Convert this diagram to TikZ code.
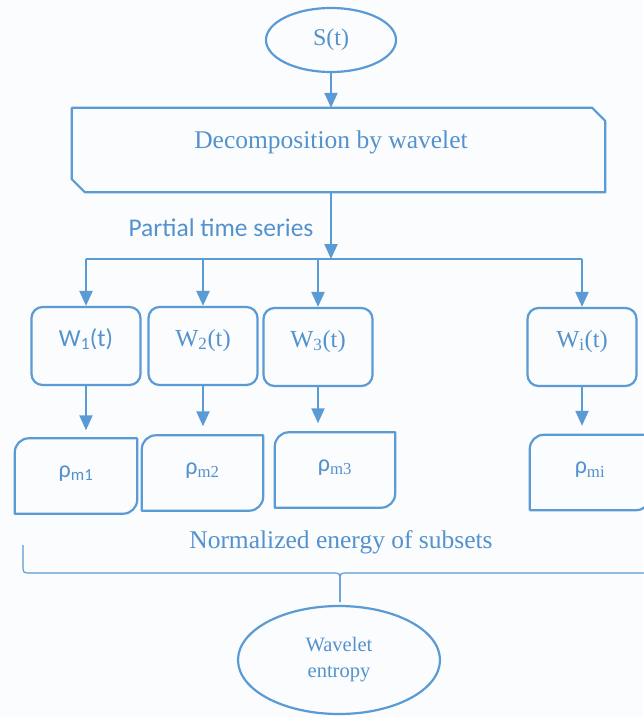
\documentclass[tikz,border=0pt]{standalone}
\usepackage{fontspec}
\setmainfont{Liberation Serif}
\newfontfamily\calibri{Carlito}
\usetikzlibrary{shapes.geometric,arrows.meta,calc}
\definecolor{waveblue}{RGB}{91,155,213}
\definecolor{wavetext}{RGB}{84,146,206}
\definecolor{paper}{RGB}{251,252,253}

\begin{document}
\begin{tikzpicture}[x=1pt,y=-1pt,
  every node/.style={text=wavetext},
  oval/.style={ellipse,draw=waveblue,line width=2.2pt,inner sep=0pt},
  wbox/.style={rectangle,rounded corners=11pt,draw=waveblue,line width=2.2pt,
    minimum width=109pt,minimum height=78pt,inner sep=0pt,
    font=\fontsize{24.5}{28}\selectfont,text height=17pt,text depth=17pt},
  pbox/.style={rectangle,minimum width=121pt,minimum height=75pt,inner sep=0pt,
    font=\fontsize{24}{28}\selectfont,text height=17pt,text depth=15pt},
  link/.style={draw=waveblue,line width=2.2pt,line join=round},
  arrow/.style={link,-{Triangle[length=15pt,width=13pt]}},
  braceline/.style={draw=waveblue,line width=1.2pt}
]
\useasboundingbox (0,0) rectangle (643,717);
\fill[paper] (0,0) rectangle (643,717);

% input and decomposition
\node[oval,minimum width=130pt,minimum height=64pt,font=\fontsize{24}{28}\selectfont] (s) at (331,40) {S(t)};
\node[rectangle,minimum width=533pt,minimum height=84pt,inner sep=0pt,
  font=\fontsize{25.5}{30}\selectfont,text height=18pt,text depth=21pt] (dec) at (338.5,150) {\hspace*{-15pt}Decomposition by wavelet};
\draw[link] (dec.north west) -- ([xshift=-13pt]dec.north east) -- ([yshift=-13pt]dec.north east)
  -- (dec.south east) -- ([xshift=13pt]dec.south west) -- ([yshift=13pt]dec.south west) -- cycle;
\coordinate (bus) at (331,259);
\node[font=\calibri\fontsize{25.5}{30}\selectfont] (pts) at (221,228) {Partial time series};

% partial series
\node[wbox] (w1) at (86,346) {\calibri W\textsubscript{1}(t)};
\node[wbox] (w2) at (203,346) {W\textsubscript{2}(t)};
\node[wbox] (w3) at (318,347) {W\textsubscript{3}(t)};
\node[wbox] (wi) at (582,347) {W\textsubscript{i}(t)};

% normalized energies
\node[pbox,minimum width=122pt] (r1) at (76,476) {\calibri ρ\textsubscript{m1}};
\node[pbox] (r2) at (202.5,473) {{\calibri ρ}\textsubscript{m2}};
\node[pbox,minimum width=120pt] (r3) at (335,470) {{\calibri ρ}\textsubscript{m3}};
\node[pbox,minimum width=120pt] (ri) at (590,472.5) {{\calibri ρ}\textsubscript{mi}};
\foreach \b in {r1,r2,r3,ri}
  \draw[link] (\b.north east) -- ([yshift=14pt]\b.south east)
    .. controls ([yshift=6.3pt]\b.south east) and ([xshift=-6.3pt]\b.south east) .. ([xshift=-14pt]\b.south east)
    -- (\b.south west) -- ([yshift=-14pt]\b.north west)
    .. controls ([yshift=-6.3pt]\b.north west) and ([xshift=6.3pt]\b.north west) .. ([xshift=14pt]\b.north west) -- cycle;

\node[font=\fontsize{25.5}{30}\selectfont] (net) at (341,542) {Normalized energy of subsets};
\node[oval,minimum width=202pt,minimum height=108pt,align=center,
  font=\fontsize{20.5}{26}\selectfont] (ent) at (339,660) {Wavelet\\entropy};

% connectors
\draw[arrow] (s) -- (s |- dec.north);
\draw[arrow] (bus |- dec.south) -- (bus);
\draw[link] (w1 |- bus) -- (wi |- bus);
\foreach \w in {w1,w2,w3,wi}
  \draw[arrow] (\w |- bus) -- (\w.north);
\draw[arrow,shorten >=8pt] (w1) -- (w1 |- r1.north);
\draw[arrow,shorten >=9pt] (w2) -- (w2 |- r2.north);
\draw[arrow,shorten >=9pt] (w3) -- (w3 |- r3.north);
\draw[arrow,shorten >=9pt] (wi) -- (wi |- ri.north);

% brace
\coordinate (tip) at (340,602);
\draw[braceline] (23,545) -- (23,565) .. controls (23,573) .. (31,573) -- (332,573)
  .. controls (340,573) .. (340,581) -- (tip);
\draw[braceline] (tip) -- (340,581) .. controls (340,573) .. (348,573) -- (660,573);
\end{tikzpicture}
\end{document}
